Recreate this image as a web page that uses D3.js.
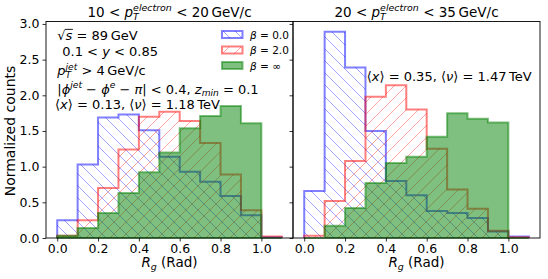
<!DOCTYPE html>
<html>
<head>
<meta charset="utf-8">
<script src="https://cdnjs.cloudflare.com/ajax/libs/d3/7.8.5/d3.min.js"></script>
<style>
  body { margin: 0; background: #fff; }
  text { font-family: "DejaVu Sans", sans-serif; fill: #000; white-space: pre; }
</style>
</head>
<body>
<div id="container"></div>
<script>
// bin edges of the R_g histograms
var binEdges = [0.0, 0.1, 0.2, 0.3, 0.4, 0.5, 0.6, 0.7, 0.8, 0.9, 1.0, 1.1];

// left panel: 10 < pT < 20
var leftBeta0   = [0.25, 1.03, 1.69, 1.73, 1.51, 1.14, 0.93, 0.79, 0.59, 0.32, 0.01];
var leftBeta2   = [0.03, 0.25, 0.70, 1.24, 1.70, 1.77, 1.64, 1.33, 0.89, 0.39, 0.02];
var leftBetaInf = [0.03, 0.14, 0.35, 0.63, 0.92, 1.20, 1.54, 1.71, 1.85, 1.61, 0.00];

// right panel: 20 < pT < 35
var rightBeta0   = [0.66, 2.89, 2.39, 1.50, 0.80, 0.60, 0.38, 0.35, 0.28, 0.09, 0.02];
var rightBeta2   = [0.03, 0.52, 1.08, 1.98, 2.14, 1.80, 1.25, 0.68, 0.41, 0.10, 0.01];
var rightBetaInf = [0.00, 0.17, 0.42, 0.77, 1.05, 1.14, 1.42, 1.75, 1.67, 1.62, 0.00];

var xTicks = [0.0, 0.2, 0.4, 0.6, 0.8, 1.0];
var yTicks = [0.0, 0.5, 1.0, 1.5, 2.0, 2.5, 3.0];
var legendLabels = ["0.0", "2.0", "\u221e"];

var W = 548, H = 279;
var plotTop = 21.5, plotBottom = 238;
var yMax = 2.89 * 1.05;

var svg = d3.select("#container").append("svg")
    .attr("width", W).attr("height", H);

var defs = svg.append("defs");
function hatch(id, color, back) {
    var p = defs.append("pattern").attr("id", id)
        .attr("patternUnits", "userSpaceOnUse")
        .attr("width", 12).attr("height", 12);
    var d = back
        ? "M-3,9L3,15M0,0L12,12M9,-3L15,3"
        : "M-3,3L3,-3M0,12L12,0M9,15L15,9";
    p.append("path").attr("d", d)
        .attr("stroke", color).attr("stroke-opacity", 0.45)
        .attr("stroke-width", 0.8).attr("fill", "none");
}
hatch("hBlue", "blue", true);
hatch("hRed", "red", false);

var y = d3.scaleLinear().domain([0, yMax]).range([plotBottom, plotTop]);

// lay out a bit of mathtext, measuring each piece
function mathText(parent, x0, y0, parts, size, anchor) {
    var g = parent.append("g");
    var cx = 0;
    parts.forEach(function(p) {
        var t = g.append("text").attr("x", cx).attr("y", 0)
            .style("font-size", size + "px")
            .style("font-style", p.it ? "italic" : "normal")
            .text(p.t);
        var w = t.node().getComputedTextLength();
        if (p.over) {
            g.append("line").attr("x1", cx - 0.5).attr("x2", cx + w + 0.5)
                .attr("y1", -size * 0.78).attr("y2", -size * 0.78)
                .attr("stroke", "#000").attr("stroke-width", 0.9);
        }
        cx += w;
        var sw = 0;
        if (p.sub) {
            var s = g.append("text").attr("x", cx).attr("y", size * 0.22)
                .style("font-size", (size * 0.7) + "px")
                .style("font-style", "italic").text(p.sub);
            sw = s.node().getComputedTextLength();
        }
        if (p.sup) {
            var u = g.append("text").attr("x", cx).attr("y", -size * 0.42)
                .style("font-size", (size * 0.7) + "px")
                .style("font-style", "italic").text(p.sup);
            sw = Math.max(sw, u.node().getComputedTextLength());
        }
        cx += sw;
    });
    var dx = anchor == "middle" ? -cx / 2 : 0;
    g.attr("transform", "translate(" + (x0 + dx) + "," + y0 + ")");
    return g;
}

function stepPoints(vals) {
    var pts = [[binEdges[0], 0]];
    vals.forEach(function(v, i) {
        pts.push([binEdges[i], v]);
        pts.push([binEdges[i + 1], v]);
    });
    pts.push([binEdges[binEdges.length - 1], 0]);
    return pts;
}

function drawPanel(left, right, b0, b2, bInf, title) {
    var x = d3.scaleLinear().domain([-0.055, 1.155]).range([left, right]);
    var line = d3.line().x(function(d) { return x(d[0]); })
                        .y(function(d) { return y(d[1]); });
    var g = svg.append("g");

    // hatched step histograms
    [[b0, "blue", "url(#hBlue)"], [b2, "red", "url(#hRed)"]].forEach(function(s) {
        var pts = stepPoints(s[0]);
        g.append("path").attr("d", line(pts) + "Z")
            .attr("fill", s[2]).attr("stroke", "none");
        g.append("path").attr("d", line(pts))
            .attr("fill", "none").attr("stroke", s[1])
            .attr("stroke-opacity", 0.5).attr("stroke-width", 2);
    });
    // filled histogram
    g.append("path").attr("d", line(stepPoints(bInf)) + "Z")
        .attr("fill", "green").attr("fill-opacity", 0.5)
        .attr("stroke", "green").attr("stroke-opacity", 0.5)
        .attr("stroke-width", 2);

    // axes
    var xa = svg.append("g").attr("transform", "translate(0," + plotBottom + ")")
        .call(d3.axisBottom(x).tickValues(xTicks).tickSize(3.5).tickSizeOuter(0)
              .tickPadding(3).tickFormat(d3.format(".1f")));
    xa.select(".domain").remove();
    xa.selectAll("text").style("font-size", "12.5px")
        .style("font-family", "DejaVu Sans").attr("fill", "#000");
    xa.selectAll("line").attr("stroke", "#000").attr("stroke-width", 0.8);

    var ya = svg.append("g").attr("transform", "translate(" + left + ",0)")
        .call(d3.axisLeft(y).tickValues(yTicks).tickSize(3.5).tickSizeOuter(0)
              .tickPadding(3).tickFormat(d3.format(".1f")));
    ya.select(".domain").remove();
    ya.selectAll("line").attr("stroke", "#000").attr("stroke-width", 0.8);
    if (left > 100) ya.selectAll("text").remove();
    else ya.selectAll("text").style("font-size", "12.5px")
        .style("font-family", "DejaVu Sans").attr("fill", "#000");

    svg.append("rect").attr("x", left).attr("y", plotTop)
        .attr("width", right - left).attr("height", plotBottom - plotTop)
        .attr("fill", "none").attr("stroke", "#000").attr("stroke-width", 0.9);

    var mid = (left + right) / 2;
    mathText(svg, mid, 17, [{t: title[0] + " < "}, {t: "p", it: 1, sub: "T", sup: "electron"},
        {t: " < " + title[1] + "\u2009GeV/c"}], 13.5, "middle");
    mathText(svg, mid, 267, [{t: "R", it: 1, sub: "g"}, {t: " (Rad)"}], 13.5, "middle");
    return x;
}

drawPanel(46, 293, leftBeta0, leftBeta2, leftBetaInf, ["10", "20"]);
drawPanel(293, 540, rightBeta0, rightBeta2, rightBetaInf, ["20", "35"]);

// y label
svg.append("text").attr("transform", "translate(15,131) rotate(-90)")
    .attr("text-anchor", "middle").style("font-size", "14px")
    .text("Normalized counts");

// left panel annotations
var fs = 13;
mathText(svg, 57.3, 39.5, [{t: "\u221a"}, {t: "s", it: 1, over: true}, {t: " = 89\u2009GeV"}], fs);
mathText(svg, 62.3, 55.5, [{t: "0.1 < "}, {t: "y", it: 1}, {t: " < 0.85"}], fs);
mathText(svg, 57.3, 75, [{t: "p", it: 1, sub: "T", sup: "jet"}, {t: " > 4\u2009GeV/c"}], fs);
mathText(svg, 57.3, 93.5, [{t: "|"}, {t: "\u03d5", it: 1, sup: "jet"}, {t: " \u2212 "},
    {t: "\u03d5", it: 1, sup: "e"}, {t: " \u2212 "}, {t: "\u03c0", it: 1}, {t: "| < 0.4, "},
    {t: "z", it: 1, sub: "min"}, {t: " = 0.1"}], fs);
mathText(svg, 55, 108.5, [{t: "\u27e8"}, {t: "x", it: 1}, {t: "\u27e9 = 0.13, \u27e8"},
    {t: "\u03bd", it: 1}, {t: "\u27e9 = 1.18\u2009TeV"}], fs);
// right panel annotation
mathText(svg, 366.7, 81, [{t: "\u27e8"}, {t: "x", it: 1}, {t: "\u27e9 = 0.35, \u27e8"},
    {t: "\u03bd", it: 1}, {t: "\u27e9 = 1.47\u2009TeV"}], fs);

// legend
var legend = svg.append("g");
var legFill = ["url(#hBlue)", "url(#hRed)", "green"];
var legStroke = ["blue", "red", "green"];
legendLabels.forEach(function(lab, i) {
    var cy = 34.5 + i * 15.5;
    legend.append("rect").attr("x", 222).attr("y", cy - 3.5)
        .attr("width", 20.5).attr("height", 7)
        .attr("fill", legFill[i]).attr("fill-opacity", i == 2 ? 0.5 : 1)
        .attr("stroke", legStroke[i]).attr("stroke-opacity", 0.5)
        .attr("stroke-width", 2);
    mathText(legend, 250, cy + 4, [{t: "\u03b2", it: 1}, {t: " = " + lab}], 10.5);
});
</script>
</body>
</html>
